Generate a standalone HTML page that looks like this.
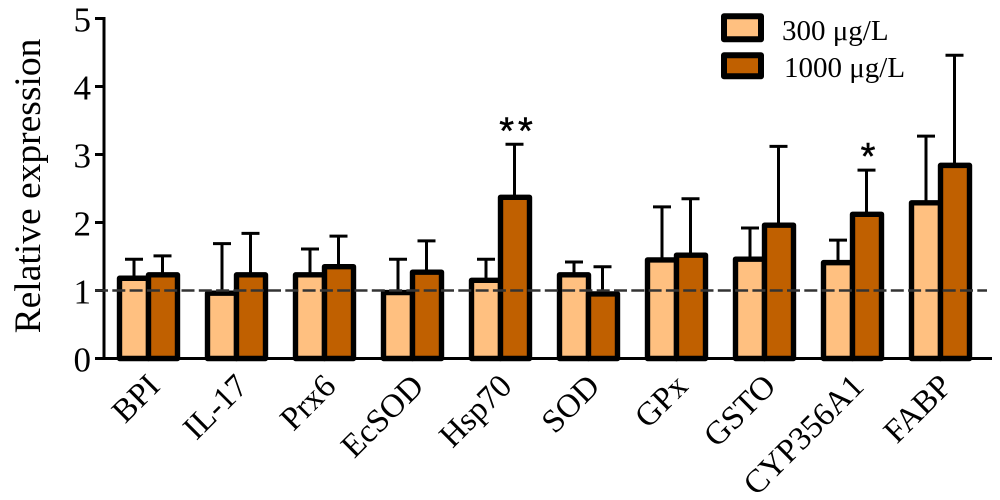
<!DOCTYPE html>
<html lang="en">
<head>
<meta charset="utf-8">
<title>Relative expression chart</title>
<style>
html,body{margin:0;padding:0;background:#fff;}
svg{display:block;}
text{font-family:"Liberation Serif",serif;fill:#000;}
</style>
</head>
<body>
<svg id="chart" width="1000" height="500" viewBox="0 0 1000 500" xmlns="http://www.w3.org/2000/svg">
<rect width="1000" height="500" fill="#fff"/>
<g id="marks"></g>
<g id="axes"></g>
<g id="labels"></g>
<text transform="translate(40,186) rotate(-90)" text-anchor="middle" font-size="37.5">Relative expression</text>
<g>
<rect x="724" y="16.3" width="37" height="23" fill="#FFC080" stroke="#000" stroke-width="6" stroke-linejoin="round"/>
<text x="782" y="40" font-size="29" xml:space="preserve">300 μg/L</text>
<rect x="724" y="55.3" width="37" height="21" fill="#C06000" stroke="#000" stroke-width="6" stroke-linejoin="round"/>
<text x="784" y="77" font-size="29" xml:space="preserve">1000 μg/L</text>
</g>
</svg>
<script>
const categories = ["BPI","IL-17","Prx6","EcSOD","Hsp70","SOD","GPx","GSTO","CYP356A1","FABP"];
const values300 = [1.18,0.96,1.23,0.97,1.15,1.23,1.45,1.46,1.41,2.29];
const values1000 = [1.23,1.23,1.35,1.27,2.37,0.95,1.52,1.96,2.12,2.84];
const errorTop300 = [1.46,1.69,1.61,1.46,1.46,1.42,2.23,1.92,1.74,3.27];
const errorTop1000 = [1.51,1.84,1.80,1.73,3.15,1.35,2.35,3.12,2.77,4.46];
const significance1000 = ["","","","","**","","","","*",""];
const yTicks = [0,1,2,3,4,5];
const referenceValue = 1;

const NS = "http://www.w3.org/2000/svg";
const yScale = v => 358.5 - v * 68;
const xScale = i => 148.5 + i * 88;
const BAR_W = 29;
const marks = document.getElementById("marks");
const axes = document.getElementById("axes");
const labels = document.getElementById("labels");

function make(parent, tag, attrs, text) {
  const el = document.createElementNS(NS, tag);
  for (const k in attrs) el.setAttribute(k, attrs[k]);
  if (text !== undefined) el.textContent = text;
  parent.appendChild(el);
  return el;
}

function drawError(cx, top, base, name) {
  const g = make(marks, "g", {stroke: "#000", "stroke-width": 3, fill: "none"});
  
  
  make(g, "line", {x1: cx, x2: cx, y1: yScale(top), y2: yScale(base)});
  make(g, "line", {x1: cx - 9, x2: cx + 9, y1: yScale(top), y2: yScale(top)});
}

function drawBar(x, v, fill, name) {
  const r = make(marks, "rect", {x: x, y: yScale(v), width: BAR_W, height: yScale(0) - yScale(v), fill: fill, stroke: "#000", "stroke-width": 5.4, "stroke-linejoin": "round"});
  
  
}

categories.forEach((c, i) => {
  const cx = xScale(i);
  const key = c.toLowerCase();
  drawError(cx - BAR_W / 2, errorTop300[i], values300[i], "error-bar-300-" + key);
  drawError(cx + BAR_W / 2 - 0.5, errorTop1000[i], values1000[i], "error-bar-1000-" + key);
  drawBar(cx - BAR_W, values300[i], "#FFC080", "bar-300-" + key);
  drawBar(cx, values1000[i], "#C06000", "bar-1000-" + key);
  const lab = make(labels, "text", {"text-anchor": "end", "font-size": 33, transform: "translate(" + (cx + 13) + ",388) rotate(-45)"}, c);
  
  
  if (significance1000[i]) {
    const s = make(marks, "text", {x: cx + BAR_W / 2 + 3, y: yScale(errorTop1000[i]) - 1, "text-anchor": "middle", "font-size": 38, "letter-spacing": "4", stroke: "#000", "stroke-width": 0.5}, significance1000[i]);
    s.style.fontFamily = '"Liberation Sans",sans-serif';
    
    
  }
});

const yAxisLine = make(axes, "line", {x1: 104, x2: 104, y1: yScale(5) - 1.5, y2: yScale(0), stroke: "#000", "stroke-width": 3});


const xAxisLine = make(axes, "line", {x1: 95, x2: 992, y1: yScale(0), y2: yScale(0), stroke: "#000", "stroke-width": 3});



yTicks.forEach(t => {
  const tick = make(axes, "line", {x1: 95, x2: 104, y1: yScale(t), y2: yScale(t), stroke: "#000", "stroke-width": 3});
  
  
  const lab = make(axes, "text", {x: 91, y: yScale(t) + 13, "text-anchor": "end", "font-size": 35}, String(t));
  
  
});

const refLine = make(axes, "line", {x1: 95, x2: 987, y1: yScale(referenceValue), y2: yScale(referenceValue), stroke: "#333", "stroke-width": 2.5, "stroke-dasharray": "13 4.3"});


</script>
</body>
</html>
